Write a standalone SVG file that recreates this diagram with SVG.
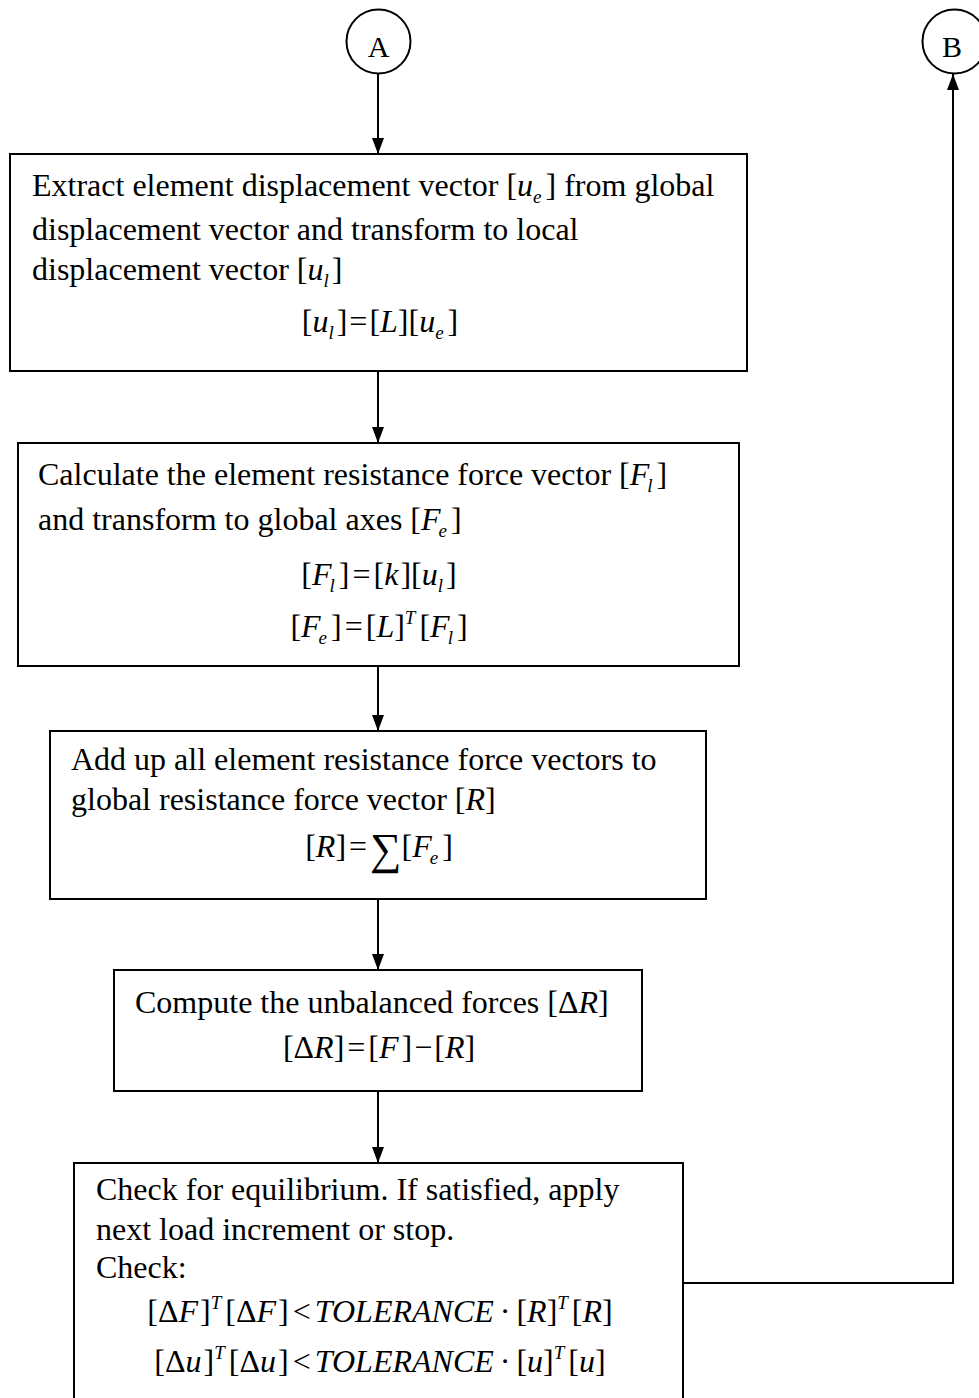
<svg xmlns="http://www.w3.org/2000/svg" width="979" height="1398" viewBox="0 0 979 1398">
<style>
.t{font-family:"Liberation Serif","Times New Roman",serif;font-size:32px;fill:#000}
.i{font-style:italic}
.s{font-size:19px;font-style:italic}
.p{font-size:19px;font-style:italic}
.sum{font-size:44px}
.box{fill:#fff;stroke:#000;stroke-width:2}
.circ{fill:#fff;stroke:#000;stroke-width:2}
.c{fill:none;stroke:#000;stroke-width:2}
</style>
<defs>
<marker id="ah" viewBox="0 0 16 12" refX="16" refY="6" markerWidth="16" markerHeight="12" markerUnits="userSpaceOnUse" orient="auto">
<path d="M0,0 L16,6 L0,12 z" fill="#000"/>
</marker>
</defs>
<rect width="979" height="1398" fill="#fff"/>

<g id="connectors">
<line class="c" x1="378" y1="74" x2="378" y2="154" marker-end="url(#ah)"/>
<line class="c" x1="378" y1="371" x2="378" y2="443" marker-end="url(#ah)"/>
<line class="c" x1="378" y1="666" x2="378" y2="731" marker-end="url(#ah)"/>
<line class="c" x1="378" y1="899" x2="378" y2="970" marker-end="url(#ah)"/>
<line class="c" x1="378" y1="1091" x2="378" y2="1163" marker-end="url(#ah)"/>
<path class="c" d="M683,1283 H953 V74" marker-end="url(#ah)"/>
</g>

<g id="node-a">
<circle class="circ" cx="378.5" cy="41.5" r="32"/>
<text class="t" x="378.5" y="57" text-anchor="middle" style="font-size:30px">A</text>
</g>

<g id="node-b">
<circle class="circ" cx="954.5" cy="41.5" r="32"/>
<text class="t" x="952" y="57" text-anchor="middle" style="font-size:30px">B</text>
</g>

<g id="box1">
<rect class="box" x="10" y="154" width="737" height="217"/>
<text class="t" x="32" y="196">Extract element displacement vector [<tspan class="i">u</tspan><tspan class="s" dy="7">e</tspan><tspan dy="-7" dx="4">]</tspan> from global</text>
<text class="t" x="32" y="240">displacement vector and transform to local</text>
<text class="t" x="32" y="280">displacement vector [<tspan class="i">u</tspan><tspan class="s" dy="7">l</tspan><tspan dy="-7" dx="3">]</tspan></text>
<text class="t" x="380" y="332" text-anchor="middle">[<tspan class="i">u</tspan><tspan class="s" dy="7">l</tspan><tspan dy="-7" dx="3">]</tspan><tspan dx="2">=</tspan><tspan dx="2">[</tspan><tspan class="i">L</tspan>][<tspan class="i">u</tspan><tspan class="s" dy="7">e</tspan><tspan dy="-7" dx="4">]</tspan></text>
</g>

<g id="box2">
<rect class="box" x="18" y="443" width="721" height="223"/>
<text class="t" x="38" y="485">Calculate the element resistance force vector [<tspan class="i">F</tspan><tspan class="s" dy="7" dx="-2">l</tspan><tspan dy="-7" dx="4">]</tspan></text>
<text class="t" x="38" y="530">and transform to global axes [<tspan class="i">F</tspan><tspan class="s" dy="7" dx="-2">e</tspan><tspan dy="-7" dx="4">]</tspan></text>
<text class="t" x="379" y="585" text-anchor="middle">[<tspan class="i">F</tspan><tspan class="s" dy="7" dx="-2">l</tspan><tspan dy="-7" dx="4">]</tspan><tspan dx="3">=</tspan><tspan dx="3">[</tspan><tspan class="i">k</tspan><tspan dx="2">][</tspan><tspan class="i">u</tspan><tspan class="s" dy="7">l</tspan><tspan dy="-7" dx="3">]</tspan></text>
<text class="t" x="379" y="637" text-anchor="middle">[<tspan class="i">F</tspan><tspan class="s" dy="7" dx="-2">e</tspan><tspan dy="-7" dx="4">]</tspan><tspan dx="3">=</tspan><tspan dx="3">[</tspan><tspan class="i">L</tspan>]<tspan class="p" dy="-13">T</tspan><tspan dy="13" dx="4">[</tspan><tspan class="i">F</tspan><tspan class="s" dy="7" dx="-2">l</tspan><tspan dy="-7" dx="4">]</tspan></text>
</g>

<g id="box3">
<rect class="box" x="50" y="731" width="656" height="168"/>
<text class="t" x="71" y="770">Add up all element resistance force vectors to</text>
<text class="t" x="71" y="810">global resistance force vector [<tspan class="i">R</tspan>]</text>
<text class="t" x="379" y="857" text-anchor="middle">[<tspan class="i">R</tspan>]<tspan dx="3">=</tspan><tspan class="sum" dx="3" dy="7">∑</tspan><tspan dy="-7">[</tspan><tspan class="i">F</tspan><tspan class="s" dy="7" dx="-2">e</tspan><tspan dy="-7" dx="4">]</tspan></text>
</g>

<g id="box4">
<rect class="box" x="114" y="970" width="528" height="121"/>
<text class="t" x="135" y="1013">Compute the unbalanced forces [Δ<tspan class="i">R</tspan>]</text>
<text class="t" x="379" y="1058" text-anchor="middle">[Δ<tspan class="i">R</tspan>]<tspan dx="3">=</tspan><tspan dx="3">[</tspan><tspan class="i">F</tspan><tspan dx="3">]</tspan><tspan dx="2">−</tspan><tspan dx="2">[</tspan><tspan class="i">R</tspan>]</text>
</g>

<g id="box5">
<rect class="box" x="74" y="1163" width="609" height="260"/>
<text class="t" x="96" y="1200">Check for equilibrium. If satisfied, apply</text>
<text class="t" x="96" y="1240">next load increment or stop.</text>
<text class="t" x="96" y="1278">Check:</text>
<text class="t" x="380" y="1322" text-anchor="middle">[Δ<tspan class="i">F</tspan><tspan dx="2">]</tspan><tspan class="p" dy="-13">T</tspan><tspan dy="13" dx="4">[</tspan>Δ<tspan class="i">F</tspan><tspan dx="2">]</tspan><tspan dx="4">&lt;</tspan><tspan class="i" dx="4">TOLERANCE</tspan><tspan dx="6">·</tspan><tspan dx="6">[</tspan><tspan class="i">R</tspan>]<tspan class="p" dy="-13">T</tspan><tspan dy="13" dx="4">[</tspan><tspan class="i">R</tspan>]</text>
<text class="t" x="380" y="1372" text-anchor="middle">[Δ<tspan class="i">u</tspan><tspan dx="2">]</tspan><tspan class="p" dy="-13">T</tspan><tspan dy="13" dx="4">[</tspan>Δ<tspan class="i">u</tspan><tspan dx="2">]</tspan><tspan dx="4">&lt;</tspan><tspan class="i" dx="4">TOLERANCE</tspan><tspan dx="6">·</tspan><tspan dx="6">[</tspan><tspan class="i">u</tspan>]<tspan class="p" dy="-13">T</tspan><tspan dy="13" dx="4">[</tspan><tspan class="i">u</tspan>]</text>
</g>
</svg>
